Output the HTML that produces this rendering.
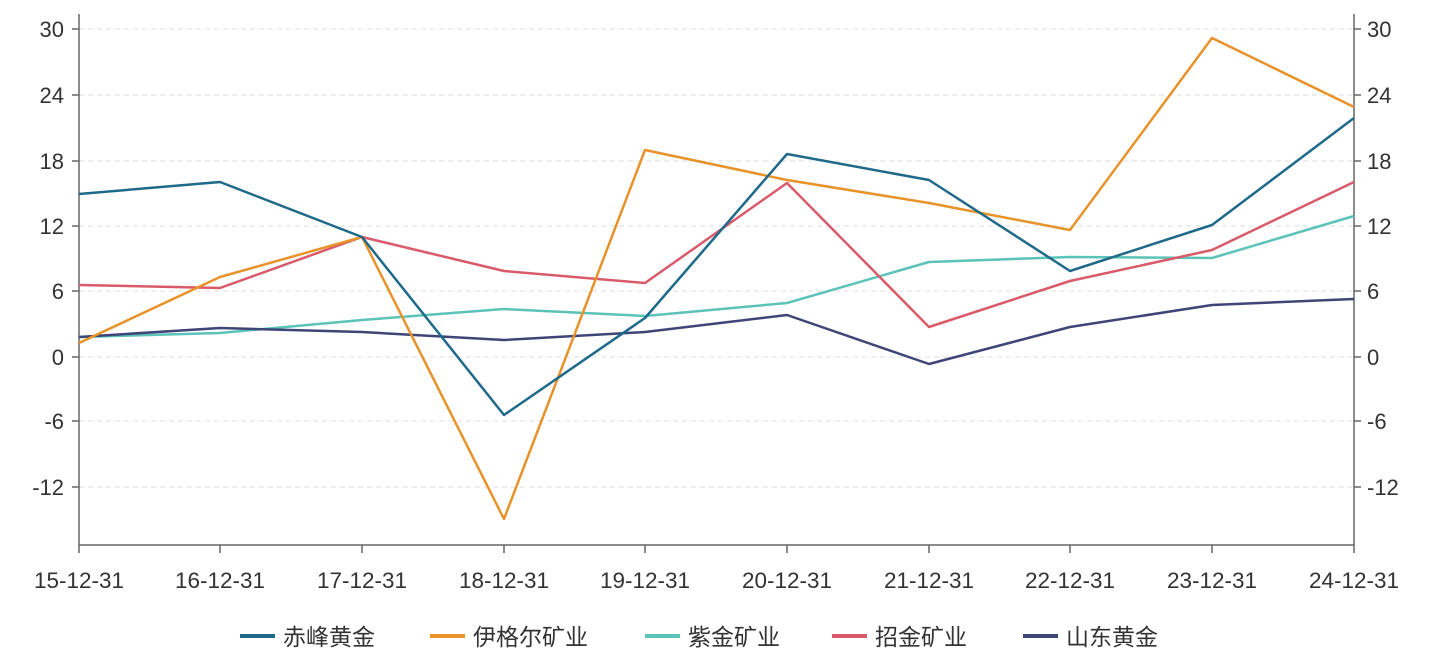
<!DOCTYPE html>
<html><head><meta charset="utf-8"><style>
body{margin:0;background:#fff;}
text{font-family:"Liberation Sans","Noto Sans CJK SC",sans-serif;fill:#333;}
</style></head><body>
<svg width="1439" height="664" xmlns="http://www.w3.org/2000/svg">
<g stroke="#ddd" stroke-dasharray="5,4" stroke-width="1">
<line x1="79" x2="1354" y1="29" y2="29"/><line x1="79" x2="1354" y1="95" y2="95"/>
<line x1="79" x2="1354" y1="161" y2="161"/><line x1="79" x2="1354" y1="226" y2="226"/>
<line x1="79" x2="1354" y1="291" y2="291"/><line x1="79" x2="1354" y1="357" y2="357"/>
<line x1="79" x2="1354" y1="421" y2="421"/><line x1="79" x2="1354" y1="487" y2="487"/>
</g>
<g stroke="#666" stroke-width="1.5" fill="none">
<line x1="79" y1="14" x2="79" y2="545"/><line x1="1354" y1="14" x2="1354" y2="545"/>
<line x1="79" y1="545" x2="1354" y2="545"/>
<path d="M72 29h7M72 95h7M72 161h7M72 226h7M72 291h7M72 357h7M72 421h7M72 487h7M1354 29h7M1354 95h7M1354 161h7M1354 226h7M1354 291h7M1354 357h7M1354 421h7M1354 487h7"/>
<path d="M79 545v8M220 545v8M362 545v8M504 545v8M645 545v8M787 545v8M929 545v8M1070 545v8M1212 545v8M1354 545v8"/>
</g>
<g font-size="22" text-anchor="end">
<text x="64" y="37">30</text><text x="64" y="103">24</text><text x="64" y="169">18</text><text x="64" y="234">12</text><text x="64" y="299">6</text><text x="64" y="365">0</text><text x="64" y="429">-6</text><text x="64" y="495">-12</text>
</g>
<g font-size="22" text-anchor="start">
<text x="1367" y="37">30</text><text x="1367" y="103">24</text><text x="1367" y="169">18</text><text x="1367" y="234">12</text><text x="1367" y="299">6</text><text x="1367" y="365">0</text><text x="1367" y="429">-6</text><text x="1367" y="495">-12</text>
</g>
<g font-size="22.5" text-anchor="middle">
<text x="79" y="588">15-12-31</text><text x="220" y="588">16-12-31</text><text x="362" y="588">17-12-31</text><text x="504" y="588">18-12-31</text><text x="645" y="588">19-12-31</text><text x="787" y="588">20-12-31</text><text x="929" y="588">21-12-31</text><text x="1070" y="588">22-12-31</text><text x="1212" y="588">23-12-31</text><text x="1354" y="588">24-12-31</text>
</g>
<g fill="none" stroke-width="2.5" stroke-linejoin="round">
<polyline stroke="#5cc3b9" points="79,337 220,333 362,320 504,309 645,316 787,303 929,262 1070,257 1212,258 1354,216"/>
<polyline stroke="#3e4577" points="79,337 220,328 362,332 504,340 645,332 787,315 929,364 1070,327 1212,305 1354,299"/>
<polyline stroke="#d95b6b" points="79,285 220,288 362,237 504,271 645,283 787,183 929,327 1070,281 1212,250 1354,182"/>
<polyline stroke="#e8922a" points="79,343 220,277 362,237 504,519 645,150 787,180 929,203 1070,230 1212,38 1354,107"/>
<polyline stroke="#1f6a8a" points="79,194 220,182 362,237 504,415 645,318 787,154 929,180 1070,271 1212,225 1354,118"/>
</g>
<g stroke-width="4">
<line x1="240" x2="275" y1="636" y2="636" stroke="#1f6a8a"/>
<line x1="430" x2="465" y1="636" y2="636" stroke="#e8922a"/>
<line x1="645" x2="680" y1="636" y2="636" stroke="#5cc3b9"/>
<line x1="832" x2="867" y1="636" y2="636" stroke="#d95b6b"/>
<line x1="1023" x2="1058" y1="636" y2="636" stroke="#3e4577"/>
</g>
<g font-size="23">
<text x="283" y="645">赤峰黄金</text><text x="473" y="645">伊格尔矿业</text><text x="688" y="645">紫金矿业</text><text x="875" y="645">招金矿业</text><text x="1066" y="645">山东黄金</text>
</g>
</svg>
</body></html>
